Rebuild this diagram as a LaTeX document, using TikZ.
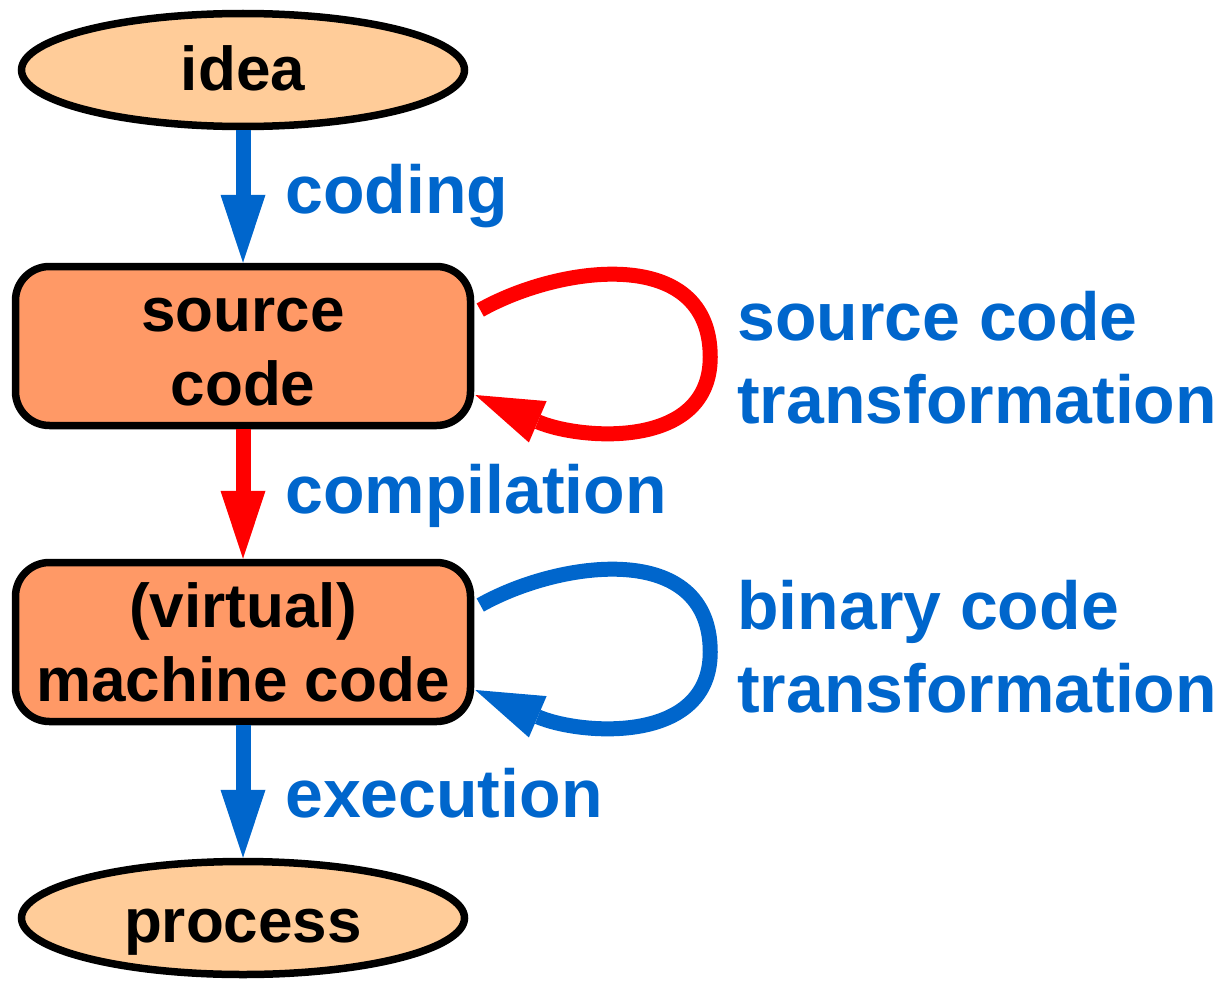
\documentclass[tikz,border=0pt]{standalone}
\usepackage{fontspec}
\setmainfont{Liberation Sans}
\usetikzlibrary{arrows.meta,shapes.geometric,calc}
\definecolor{flowblue}{HTML}{0066CC}
\definecolor{flowred}{HTML}{FF0000}
\definecolor{boxfill}{HTML}{FF9966}
\definecolor{ovalfill}{HTML}{FFCC99}
\begin{document}
\begin{tikzpicture}[x=1pt,y=-1pt,
  oval/.style={ellipse, draw=black, line width=7.5pt, fill=ovalfill,
    minimum width=443pt, minimum height=113pt, inner sep=0pt,
    font=\bfseries\fontsize{62}{74}\selectfont},
  codebox/.style={rectangle, rounded corners=34pt, draw=black, line width=7.5pt,
    fill=boxfill, minimum width=455pt, minimum height=159pt, inner sep=0pt,
    align=center, font=\bfseries\fontsize{62}{74}\selectfont},
  steplabel/.style={anchor=base west, inner sep=0pt, text=flowblue, align=left,
    font=\bfseries\fontsize{68}{83}\selectfont},
  flow/.style={line width=15pt, -{Triangle[length=68pt,width=45pt,line width=0pt]}},
  loopflow/.style={line width=15pt, -{Triangle[length=68pt,width=45pt,line width=0pt]}},
]
\useasboundingbox (0,0) rectangle (1223,982);

% stages of the program
\node[oval, text height=45pt, text depth=5pt] (idea) at (243,70) {idea};
\node[codebox] (src) at (243,346) {\vphantom{d}source\\code};
\node[codebox] (mc) at (243,642) {(virtual)\\machine code};
\node[oval, text height=50pt, text depth=2pt] (proc) at (243,918) {process};

% forward steps
\draw[flow, flowblue] (idea.south) -- (src.north);
\draw[flow, flowred] (src.south) -- (mc.north);
\draw[flow, flowblue] (mc.south) -- (proc.north);

% transformations that stay at the same level
\draw[loopflow, flowred] ($(src.east)+(6,-36)$)
  .. controls +(80,-45) and +(0,-112) .. ($(src.east)+(236,11)$)
  .. controls +(0,93) and +(105,45) .. ($(src.east)+(1,49)$);
\draw[loopflow, flowblue] ($(mc.east)+(6,-37)$)
  .. controls +(80,-45) and +(0,-112) .. ($(mc.east)+(236,10)$)
  .. controls +(0,93) and +(105,45) .. ($(mc.east)+(1,48)$);

% step names (multi-line nodes sit on the baseline of their last line)
\node[steplabel] (lcod) at (285,213) {coding};
\node[steplabel] (lcomp) at (285,513) {compilation};
\node[steplabel] (lexec) at (285,817) {execution};
\node[steplabel] (lsct) at (737,423) {source code\\transformation};
\node[steplabel] (lbct) at (737,712) {binary code\\transformation};
\end{tikzpicture}
\end{document}
